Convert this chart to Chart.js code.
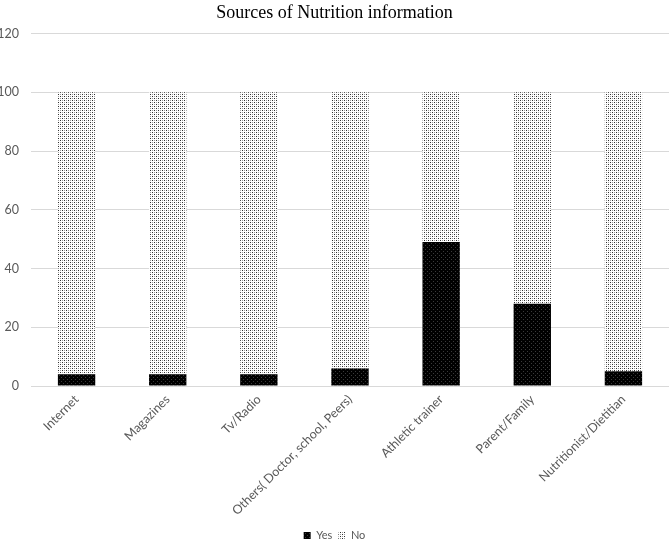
<!DOCTYPE html>
<html>
<head>
<meta charset="utf-8">
<script src="https://cdn.jsdelivr.net/npm/chart.js@4"></script>
<style>
  body { margin: 0; background: #fff; }
  #wrap { width: 669px; height: 551px; position: relative; }
</style>
</head>
<body>
<div id="wrap"><canvas id="grafico"></canvas></div>
<script>
const categorias = ["Internet", "Magazines", "Tv/Radio", "Others( Doctor, school, Peers)", "Athletic trainer", "Parent/Family", "Nutritionist/Dietitian"];
const si = [4, 4, 4, 6, 49, 28, 5];
const no = [96, 96, 96, 94, 51, 72, 95];
const ticksY = [0, 20, 40, 60, 80, 100, 120];

// little tiles for the dotted fills
function patron(fondo, puntos) {
  const c = document.createElement("canvas");
  c.width = 4; c.height = 4;
  const g = c.getContext("2d");
  g.fillStyle = fondo;
  g.fillRect(0, 0, 4, 4);
  puntos.forEach(p => {
    g.fillStyle = p[2];
    g.fillRect(p[0], p[1], 1, 1);
  });
  return g.createPattern(c, "repeat");
}

const ctx = document.getElementById("grafico").getContext("2d");
const rellenoSi = patron("#000000", [[1, 1, "#3a3a3a"], [3, 3, "#3a3a3a"]]);
const rellenoNo = patron("#ffffff", [[0, 0, "#303030"], [2, 2, "#303030"], [2, 0, "#9a9a9a"], [0, 2, "#9a9a9a"]]);

new Chart(ctx, {
  type: "bar",
  data: {
    labels: categorias,
    datasets: [{
      label: "Yes",
      data: si,
      backgroundColor: rellenoSi,
      borderWidth: 0,
      categoryPercentage: 1,
      barPercentage: 0.41
    }, {
      label: "No",
      data: no,
      backgroundColor: rellenoNo,
      borderWidth: 0,
      categoryPercentage: 1,
      barPercentage: 0.41
    }]
  },
  options: {
    responsive: true,
    maintainAspectRatio: false,
    animation: false,
    layout: { padding: 0 },
    plugins: {
      title: {
        display: true,
        text: "Sources of Nutrition information",
        color: "#000",
        font: { family: "Liberation Serif", size: 18, weight: "normal" },
        padding: { top: 2, bottom: 10 }
      },
      legend: {
        position: "bottom",
        labels: {
          boxWidth: 7,
          boxHeight: 7,
          color: "#595959",
          font: { family: "Lato", size: 11 },
          padding: 6
        }
      },
      tooltip: { enabled: false }
    },
    scales: {
      x: {
        stacked: true,
        grid: { display: false, drawTicks: false },
        border: { display: true, color: "#d9d9d9" },
        ticks: {
          color: "#595959",
          font: { family: "Lato", size: 12.5 },
          maxRotation: 45,
          minRotation: 45,
          padding: 6,
          autoSkip: false
        },
        afterFit: s => { s.height = 138; }
      },
      y: {
        stacked: true,
        min: 0,
        max: 120,
        afterBuildTicks: s => { s.ticks = ticksY.map(v => ({ value: v })); },
        grid: { color: "#d9d9d9", drawTicks: false },
        border: { display: false },
        ticks: {
          color: "#595959",
          font: { family: "Lato", size: 12.5 },
          padding: 12
        },
        afterFit: s => { s.width = 31; }
      }
    }
  }
});
</script>
</body>
</html>
